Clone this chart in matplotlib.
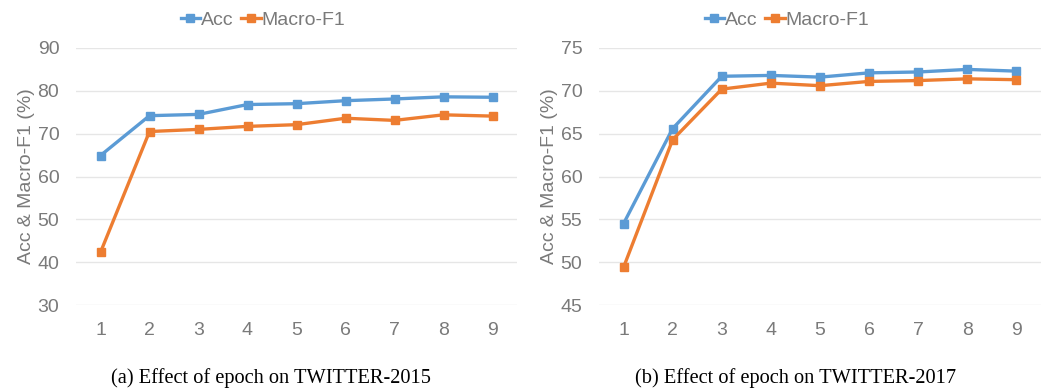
import matplotlib.pyplot as plt

epochs = [1, 2, 3, 4, 5, 6, 7, 8, 9]

# TWITTER-2015
acc_2015 = [64.9, 74.2, 74.5, 76.8, 77.0, 77.7, 78.1, 78.6, 78.5]
f1_2015 = [42.3, 70.5, 71.0, 71.7, 72.1, 73.6, 73.1, 74.4, 74.1]

# TWITTER-2017
acc_2017 = [54.5, 65.6, 71.7, 71.8, 71.6, 72.1, 72.2, 72.5, 72.3]
f1_2017 = [49.4, 64.3, 70.2, 70.9, 70.6, 71.1, 71.2, 71.4, 71.3]

yticks_2015 = [30, 40, 50, 60, 70, 80, 90]
yticks_2017 = [45, 50, 55, 60, 65, 70, 75]

captions = ["(a) Effect of epoch on TWITTER-2015", "(b) Effect of epoch on TWITTER-2017"]

blue = "#5B9BD5"
orange = "#ED7D31"
gray = "#7a7a7a"

plt.rcParams['font.family'] = ['Liberation Sans', 'DejaVu Sans']

fig = plt.figure(figsize=(10.45, 3.91), dpi=100)
ax1 = fig.add_axes([76 / 1045, 1 - 305 / 391, 441 / 1045, 257 / 391])
ax2 = fig.add_axes([599 / 1045, 1 - 305 / 391, 442 / 1045, 257 / 391])

panels = [(ax1, acc_2015, f1_2015, yticks_2015, 263),
          (ax2, acc_2017, f1_2017, yticks_2017, 787)]

for ax, acc, f1, yt, legx in panels:
    ax.plot(epochs, acc, color=blue, lw=2.4, marker='s', ms=5.5, label='Acc')
    ax.plot(epochs, f1, color=orange, lw=2.4, marker='s', ms=5.5, label='Macro-F1')
    ax.set_xlim(0.5, 9.5)
    ax.set_ylim(yt[0], yt[-1])
    ax.set_yticks(yt)
    ax.set_xticks(epochs)
    ax.grid(axis='y', color='#e6e6e6', lw=1)
    ax.set_axisbelow(True)
    for s in ax.spines.values():
        s.set_visible(False)
    ax.tick_params(length=0, labelsize=14, labelcolor=gray)
    ax.tick_params(axis='y', pad=12)
    ax.tick_params(axis='x', pad=12)
    ax.set_ylabel('Acc & Macro-F1 (%)', fontsize=14, color=gray, labelpad=2)
    ax.legend(loc='center', bbox_to_anchor=(legx / 1045, 1 - 20 / 391),
              bbox_transform=fig.transFigure, ncol=2, frameon=False,
              fontsize=14, labelcolor=gray, handlelength=1.0,
              handletextpad=0.05, columnspacing=0.4, borderaxespad=0)

fig.text(271 / 1045, 1 - 378 / 391, captions[0], ha='center', va='center',
         family='Liberation Serif', fontsize=14.7)
fig.text(796 / 1045, 1 - 378 / 391, captions[1], ha='center', va='center',
         family='Liberation Serif', fontsize=14.7)

fig.savefig('out.png', dpi=100)
